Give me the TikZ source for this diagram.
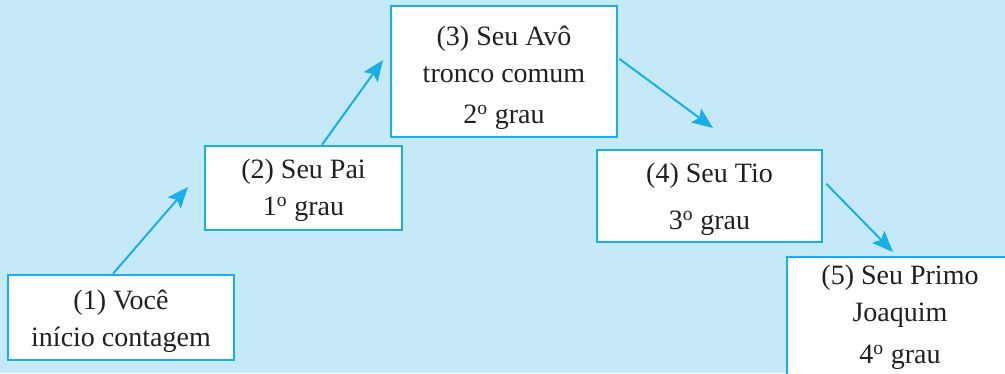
\documentclass[tikz,border=0pt]{standalone}
\usepackage{fontspec}
\setmainfont{Liberation Serif}
\usetikzlibrary{arrows.meta}
\definecolor{bgblue}{HTML}{C6E9F9}
\definecolor{lineblue}{HTML}{18AEE6}
\definecolor{ink}{HTML}{231F20}
\tikzset{
  kin/.style={draw=lineblue, line width=2.5pt, fill=white, text=ink,
    align=center, inner sep=0pt, font=\fontsize{28}{37}\selectfont},
  link/.style={draw=lineblue, line width=2pt,
    -{Stealth[length=21pt, width=17pt, inset=4pt]}}
}
\newcommand{\grau}[1]{#1\textsuperscript{o} grau}
% invisible strut that sets the height of a box's first line
\newcommand{\lead}[1]{\rule{0pt}{#1}}
\begin{document}
\begin{tikzpicture}[x=1pt, y=-1pt]
  \path[use as bounding box, fill=bgblue] (0,0) rectangle (1005,373);
  \clip (0,0) rectangle (1005,373);

  % kinship boxes
  \node[kin, minimum width=226pt, minimum height=85pt] (b1) at (121,317.5)
    {\lead{27pt}(1) Você\\início contagem};
  \node[kin, minimum width=197pt, minimum height=84pt] (b2) at (303.5,188)
    {\lead{25pt}(2) Seu Pai\\\grau{1}};
  \node[kin, minimum width=226pt, minimum height=131pt] (b3) at (504,71.5)
    {\lead{33pt}(3) Seu Avô\\tronco comum\\[4pt]\grau{2}};
  \node[kin, minimum width=225pt, minimum height=92pt] (b4) at (709.5,196)
    {\lead{27pt}(4) Seu Tio\\[10pt]\grau{3}};
  \node[kin, minimum width=226pt, minimum height=118pt] (b5) at (900,316)
    {\lead{23pt}(5) Seu Primo\\Joaquim\\[5pt]\grau{4}};

  % arrow tips
  \coordinate (t1) at (188,187);
  \coordinate (t2) at (383,60);
  \coordinate (t3) at (713,128);
  \coordinate (t4) at (893,252);

  % connectors
  \draw[link] ([xshift=-8pt]b1.north) -- (t1);
  \draw[link] ([xshift=18.5pt]b2.north) -- (t2);
  \draw[link] ([xshift=1pt, yshift=-54pt]b3.north east) -- (t3);
  \draw[link] ([xshift=3pt, yshift=-35pt]b4.north east) -- (t4);
\end{tikzpicture}
\end{document}
